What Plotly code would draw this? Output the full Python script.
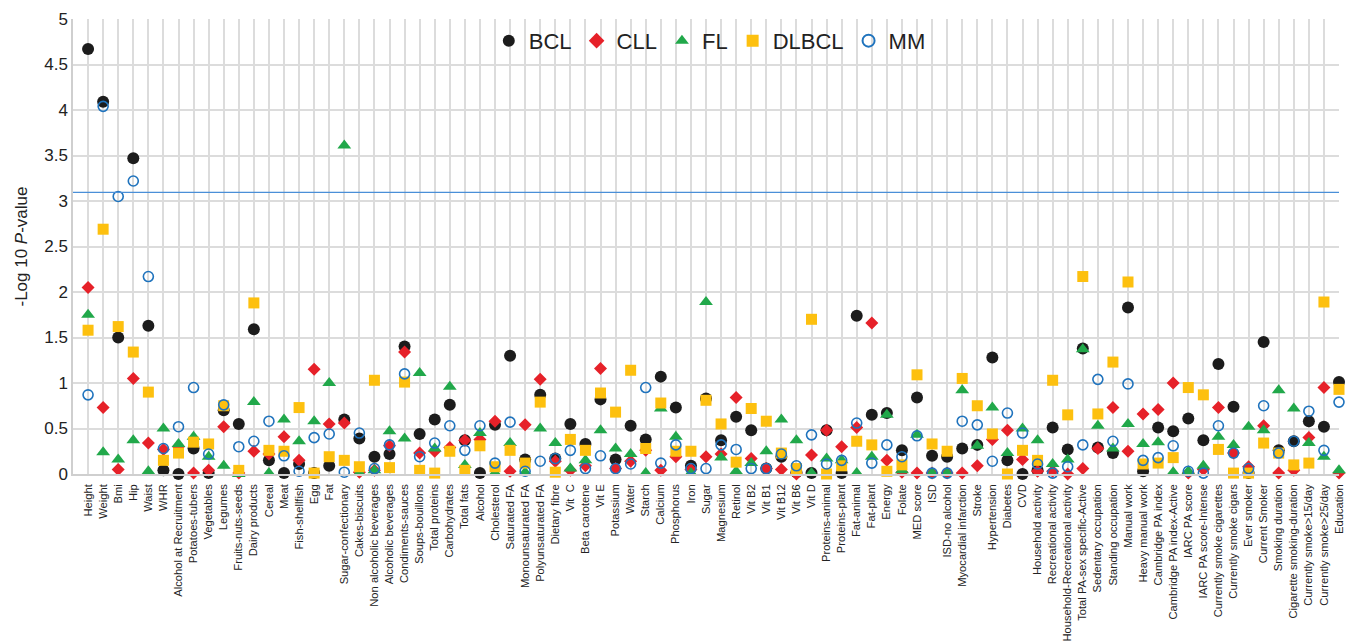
import plotly.graph_objects as go

categories = [
    "Height", "Weight", "Bmi", "Hip", "Waist", "WHR", "Alcohol at Recruitment",
    "Potatoes-tubers", "Vegetables", "Legumes", "Fruits-nuts-seeds", "Dairy products",
    "Cereal", "Meat", "Fish-shellfish", "Egg", "Fat", "Sugar-confectionary",
    "Cakes-biscuits", "Non alcoholic beverages", "Alcoholic beverages",
    "Condiments-sauces", "Soups-bouillons", "Total proteins", "Carbohydrates",
    "Total fats", "Alcohol", "Cholesterol", "Saturated FA", "Monounsaturated FA",
    "Polyunsaturated FA", "Dietary fibre", "Vit  C", "Beta carotene", "Vit E",
    "Potassium", "Water", "Starch", "Calcium", "Phosphorus", "Iron", "Sugar",
    "Magnesium", "Retinol", "Vit B2", "Vit B1", "Vit B12", "Vit B6", "Vit D",
    "Proteins-animal", "Proteins-plant", "Fat-animal", "Fat-plant", "Energy",
    "Folate", "MED score", "ISD", "ISD-no alcohol", "Myocardial infarction",
    "Stroke", "Hypertension", "Diabetes", "CVD", "Household activity",
    "Recreational activity", "Household-Recreational activity",
    "Total PA-sex specific-Active", "Sedentary occupation", "Standing occupation",
    "Manual work", "Heavy manual work", "Cambridge PA index",
    "Cambridge PA index-Active", "IARC PA score", "IARC PA score-Intense",
    "Currently smoke cigarettes", "Currently smoke cigars", "Ever smoker",
    "Current Smoker", "Smoking duration", "Cigarette smoking-duration",
    "Currently smoke>15/day", "Currently smoke>25/day", "Education",
]

bcl = [4.67, 4.09, 1.50, 3.47, 1.63, 0.04, 0.00, 0.28, 0.01, 0.70, 0.55, 1.59,
       0.15, 0.01, 0.11, 0.01, 0.09, 0.60, 0.39, 0.19, 0.22, 1.40, 0.44, 0.60,
       0.76, 0.37, 0.01, 0.54, 1.30, 0.16, 0.87, 0.17, 0.55, 0.33, 0.82, 0.16,
       0.53, 0.38, 1.07, 0.73, 0.09, 0.83, 0.37, 0.63, 0.48, 0.06, 0.19, 0.02,
       0.01, 0.48, 0.01, 1.74, 0.65, 0.67, 0.26, 0.84, 0.20, 0.19, 0.28, 0.32,
       1.28, 0.15, 0.00, 0.04, 0.51, 0.27, 1.38, 0.29, 0.23, 1.83, 0.03, 0.51,
       0.47, 0.61, 0.37, 1.21, 0.74, 0.01, 1.45, 0.26, 0.36, 0.58, 0.52, 1.01]

cll = [2.05, 0.73, 0.05, 1.05, 0.34, 0.27, 0.30, 0.01, 0.04, 0.52, 0.01, 0.25,
       0.22, 0.41, 0.15, 1.15, 0.55, 0.56, 0.02, 0.04, 0.31, 1.34, 0.23, 0.25,
       0.29, 0.37, 0.38, 0.58, 0.03, 0.54, 1.04, 0.14, 0.04, 0.09, 1.16, 0.06,
       0.14, 0.26, 0.04, 0.19, 0.05, 0.19, 0.22, 0.84, 0.17, 0.06, 0.05, 0.00,
       0.21, 0.48, 0.30, 0.51, 1.66, 0.15, 0.02, 0.01, 0.01, 0.01, 0.01, 0.09,
       0.38, 0.48, 0.16, 0.03, 0.03, 0.00, 0.06, 0.28, 0.73, 0.25, 0.66, 0.71,
       1.00, 0.01, 0.05, 0.73, 0.23, 0.08, 0.53, 0.01, 0.04, 0.40, 0.95, 0.01]

fl = [1.75, 0.24, 0.16, 0.37, 0.03, 0.50, 0.33, 0.41, 0.19, 0.09, 0.00, 0.79,
      0.01, 0.60, 0.36, 0.58, 1.00, 3.61, 0.01, 0.04, 0.47, 0.39, 1.11, 0.28,
      0.96, 0.10, 0.45, 0.01, 0.34, 0.02, 0.50, 0.34, 0.06, 0.15, 0.48, 0.28,
      0.22, 0.01, 0.72, 0.41, 0.01, 1.89, 0.18, 0.03, 0.12, 0.25, 0.60, 0.37,
      0.01, 0.17, 0.15, 0.01, 0.19, 0.65, 0.04, 0.43, 0.01, 0.01, 0.92, 0.31,
      0.73, 0.23, 0.50, 0.37, 0.11, 0.16, 1.37, 0.53, 0.28, 0.55, 0.33, 0.35,
      0.02, 0.03, 0.09, 0.41, 0.32, 0.52, 0.48, 0.92, 0.72, 0.34, 0.19, 0.04]

dlbcl = [1.58, 2.69, 1.62, 1.34, 0.90, 0.15, 0.23, 0.35, 0.33, 0.75, 0.04, 1.88,
         0.26, 0.25, 0.73, 0.01, 0.19, 0.15, 0.08, 1.03, 0.07, 1.01, 0.04, 0.01,
         0.25, 0.04, 0.31, 0.08, 0.26, 0.12, 0.79, 0.02, 0.38, 0.26, 0.89, 0.68,
         1.14, 0.28, 0.78, 0.25, 0.25, 0.81, 0.55, 0.13, 0.72, 0.58, 0.23, 0.06,
         1.70, 0.00, 0.09, 0.36, 0.32, 0.03, 0.10, 1.09, 0.33, 0.25, 1.05, 0.75,
         0.44, 0.00, 0.26, 0.15, 1.03, 0.65, 2.17, 0.66, 1.23, 2.11, 0.11, 0.12,
         0.18, 0.95, 0.87, 0.27, 0.01, 0.01, 0.34, 0.23, 0.10, 0.12, 1.89, 0.93]

mm = [0.87, 4.04, 3.05, 3.22, 2.17, 0.28, 0.52, 0.95, 0.22, 0.76, 0.30, 0.36,
      0.58, 0.20, 0.03, 0.40, 0.44, 0.02, 0.45, 0.06, 0.32, 1.10, 0.19, 0.34,
      0.53, 0.26, 0.53, 0.12, 0.57, 0.03, 0.14, 0.17, 0.26, 0.06, 0.20, 0.06,
      0.11, 0.95, 0.12, 0.32, 0.06, 0.06, 0.32, 0.27, 0.06, 0.06, 0.22, 0.09,
      0.43, 0.11, 0.15, 0.56, 0.12, 0.32, 0.19, 0.42, 0.01, 0.01, 0.58, 0.54,
      0.14, 0.67, 0.45, 0.11, 0.01, 0.08, 0.32, 1.04, 0.36, 0.99, 0.15, 0.18,
      0.31, 0.03, 0.01, 0.53, 0.23, 0.06, 0.75, 0.23, 0.36, 0.69, 0.26, 0.79]

threshold = 3.095

series = [
    ("BCL", bcl, dict(symbol="circle", size=12, color="#1c1c1c")),
    ("CLL", cll, dict(symbol="diamond", size=10, color="#e62129")),
    ("FL", fl, dict(symbol="triangle-up", size=12, color="#21a84a")),
    ("DLBCL", dlbcl, dict(symbol="square", size=11, color="#fdc00f")),
    ("MM", mm, dict(symbol="circle-open", size=10, color="#1f73bd",
                    line=dict(width=1.6, color="#1f73bd"))),
]

fig = go.Figure()
for name, vals, mk in series:
    fig.add_trace(go.Scatter(x=categories, y=vals, mode="markers", name=name,
                             marker=mk, cliponaxis=False))

fig.add_shape(type="line", xref="paper", x0=0, x1=1, yref="y",
              y0=threshold, y1=threshold,
              line=dict(color="#4a8fd8", width=1.2))

font_family = "Liberation Sans, Arial, sans-serif"
fig.update_layout(
    width=1346, height=642,
    margin=dict(l=73, r=7, t=19, b=168, autoexpand=False),
    paper_bgcolor="white", plot_bgcolor="white",
    font=dict(family=font_family, color="#222222"),
    showlegend=True,
    legend=dict(orientation="h", x=0.503, xanchor="center", y=0.952,
                yanchor="middle", font=dict(size=22, color="#222222"),
                bgcolor="rgba(0,0,0,0)", itemsizing="constant",
                tracegroupgap=0),
    xaxis=dict(type="category", categoryorder="array", categoryarray=categories,
               range=[-1, len(categories) - 1], automargin=False,
               tickmode="array", tickvals=categories, ticktext=categories,
               tickangle=-90, tickfont=dict(size=11.2, color="#222222"),
               showgrid=True, gridcolor="#dcdcdc", gridwidth=1.5,
               showline=True, linecolor="#cfcfcf", linewidth=1.5,
               ticks="outside", ticklen=4, tickcolor="rgba(0,0,0,0)",
               zeroline=False),
    yaxis=dict(range=[0, 5], dtick=0.5, automargin=False,
               tickfont=dict(size=17, color="#222222"),
               showgrid=True, gridcolor="#dcdcdc", gridwidth=1.5,
               showline=True, linecolor="#cfcfcf", linewidth=1.5,
               zeroline=False, ticks="", ticklen=0,
               title=dict(text="-Log 10 <i>P</i>-value",
                          font=dict(size=17, color="#222222"), standoff=12)),
)

fig.write_html(
    "out.html",
    config={"displayModeBar": False},
    post_script="document.body.style.margin='0';document.body.style.overflow='hidden';",
)
